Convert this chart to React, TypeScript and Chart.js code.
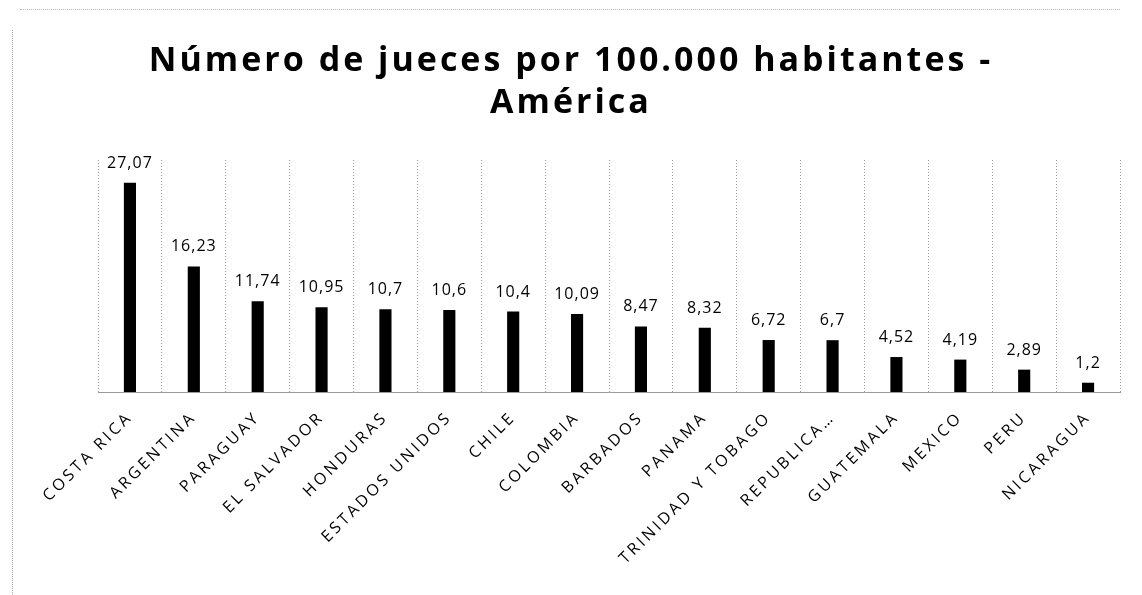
import React, { useEffect, useRef } from "react";
import { Chart, registerables } from "chart.js";

Chart.register(...registerables);

const categories = [
  "COSTA RICA",
  "ARGENTINA",
  "PARAGUAY",
  "EL SALVADOR",
  "HONDURAS",
  "ESTADOS UNIDOS",
  "CHILE",
  "COLOMBIA",
  "BARBADOS",
  "PANAMA",
  "TRINIDAD Y TOBAGO",
  "REPUBLICA…",
  "GUATEMALA",
  "MEXICO",
  "PERU",
  "NICARAGUA",
];

const jueces = [27.07, 16.23, 11.74, 10.95, 10.7, 10.6, 10.4, 10.09, 8.47, 8.32, 6.72, 6.7, 4.52, 4.19, 2.89, 1.2];

const titleLines = ["Número de jueces por 100.000 habitantes -", "América"];

const fmt = (v: number) => String(v).replace(".", ",");

const spacingPlugin = {
  id: "spacing",
  beforeUpdate(chart: any) {
    (chart.ctx as any).letterSpacing = "3px";
  },
  beforeDraw(chart: any) {
    (chart.ctx as any).letterSpacing = "3px";
  },
};

const valueLabels = {
  id: "valueLabels",
  afterDatasetsDraw(chart: any) {
    const ctx = chart.ctx;
    const meta = chart.getDatasetMeta(0);
    ctx.save();
    (ctx as any).letterSpacing = "1px";
    ctx.font = '16px "Open Sans"';
    ctx.fillStyle = "#000";
    ctx.textAlign = "center";
    ctx.textBaseline = "alphabetic";
    meta.data.forEach((bar: any, i: number) => {
      ctx.fillText(fmt(jueces[i]), bar.x, bar.y - 15);
    });
    ctx.restore();
  },
};

const hiddenAxis = (position: string, width: number) => ({
  position,
  display: true,
  min: 0,
  max: 30,
  grid: { display: false, drawTicks: false },
  border: { display: false },
  ticks: { display: false },
  afterFit(scale: any) {
    scale.width = width;
  },
});

export default function App() {
  const ref = useRef<HTMLCanvasElement | null>(null);

  useEffect(() => {
    document.body.style.margin = "0";
    const chart = new Chart(ref.current as HTMLCanvasElement, {
      type: "bar",
      data: {
        labels: categories,
        datasets: [
          {
            data: jueces,
            backgroundColor: "#000",
            borderWidth: 0,
            barPercentage: 0.19,
            categoryPercentage: 1,
            yAxisID: "y",
          },
        ],
      },
      plugins: [spacingPlugin, valueLabels],
      options: {
        animation: false,
        responsive: false,
        layout: { padding: 0 },
        plugins: {
          legend: { display: false },
          tooltip: { enabled: false },
          title: {
            display: true,
            text: titleLines,
            color: "#000",
            font: { family: '"Open Sans"', size: 34, weight: "bold", lineHeight: 1.25 },
            padding: { top: 40, bottom: 35 },
          },
        },
        scales: {
          x: {
            grid: {
              display: true,
              color: "#9a9a9a",
              lineWidth: 1,
              drawTicks: false,
              offset: true,
            },
            border: { display: true, color: "#9a9a9a", dash: [1, 2] },
            ticks: {
              color: "#000",
              font: { family: '"Open Sans"', size: 16, weight: "500" },
              minRotation: 45,
              maxRotation: 45,
              padding: 16,
              autoSkip: false,
            },
            afterFit(scale: any) {
              scale.height = 203;
            },
          },
          y: hiddenAxis("left", 98),
          y2: hiddenAxis("right", 22),
        },
      },
    } as any);
    (chart.options.scales as any).x.grid.borderDash = [1, 2];
    (chart.options.scales as any).x.grid.tickBorderDash = [1, 2];
    chart.update();
    return () => chart.destroy();
  }, []);

  return (
    <div style={{ position: "relative", width: 1142, height: 595, background: "#fff" }}>
      <div style={{ position: "absolute", left: 12, top: 30, width: 0, height: 565, borderLeft: "1px dotted #aaa" }} />
      <div style={{ position: "absolute", left: 20, top: 9, width: 1100, height: 0, borderTop: "1px dotted #bbb" }} />
      <canvas ref={ref} width={1142} height={595} style={{ position: "absolute", left: 0, top: 0 }} />
    </div>
  );
}
